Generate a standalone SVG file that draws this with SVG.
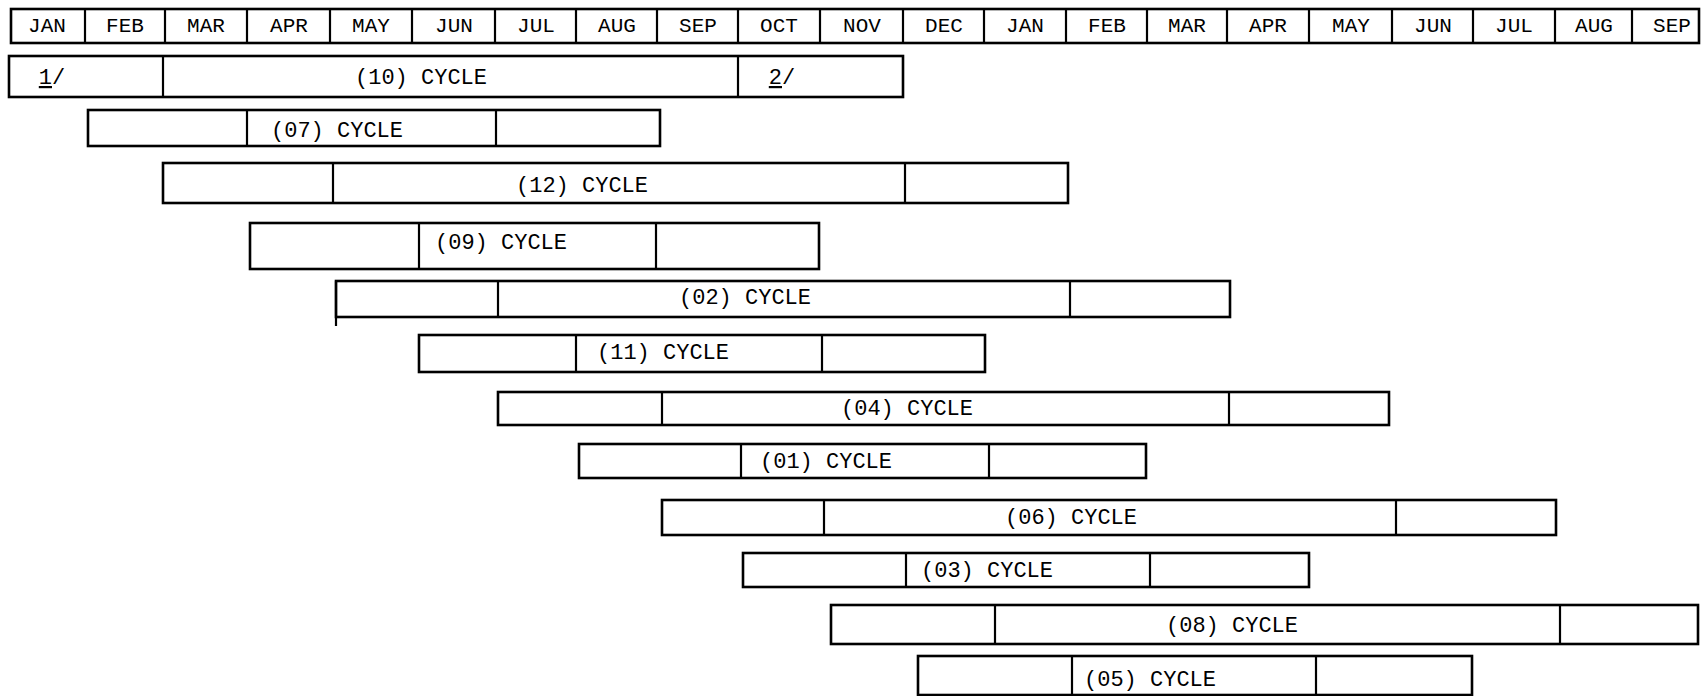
<svg xmlns="http://www.w3.org/2000/svg" width="1701" height="696" viewBox="0 0 1701 696">
<defs>
<style>
.box{fill:none;stroke:#000;stroke-width:2.6}
.div{stroke:#000;stroke-width:2.2}
.mo{font-family:"Liberation Mono","DejaVu Sans Mono",monospace;font-size:21px;fill:#000;text-anchor:middle}
.lb{font-family:"Liberation Mono","DejaVu Sans Mono",monospace;font-size:22px;fill:#000;text-anchor:middle}
</style>
</defs>
<rect width="1701" height="696" fill="#fff"/>
<g id="header">
<rect class="box" x="11" y="9" width="1688" height="34" stroke-width="3"/>
<g class="div">
<line x1="85" y1="9" x2="85" y2="43"/><line x1="165" y1="9" x2="165" y2="43"/><line x1="247" y1="9" x2="247" y2="43"/><line x1="330" y1="9" x2="330" y2="43"/><line x1="412" y1="9" x2="412" y2="43"/><line x1="495" y1="9" x2="495" y2="43"/><line x1="576" y1="9" x2="576" y2="43"/><line x1="657" y1="9" x2="657" y2="43"/><line x1="738" y1="9" x2="738" y2="43"/><line x1="820" y1="9" x2="820" y2="43"/><line x1="903" y1="9" x2="903" y2="43"/><line x1="984" y1="9" x2="984" y2="43"/><line x1="1066" y1="9" x2="1066" y2="43"/><line x1="1147" y1="9" x2="1147" y2="43"/><line x1="1227" y1="9" x2="1227" y2="43"/><line x1="1309" y1="9" x2="1309" y2="43"/><line x1="1392" y1="9" x2="1392" y2="43"/><line x1="1473" y1="9" x2="1473" y2="43"/><line x1="1555" y1="9" x2="1555" y2="43"/><line x1="1632" y1="9" x2="1632" y2="43"/>
</g>
<text class="mo" x="47" y="32">JAN</text><text class="mo" x="125" y="32">FEB</text><text class="mo" x="206" y="32">MAR</text><text class="mo" x="289" y="32">APR</text><text class="mo" x="371" y="32">MAY</text><text class="mo" x="454" y="32">JUN</text><text class="mo" x="536" y="32">JUL</text><text class="mo" x="617" y="32">AUG</text><text class="mo" x="698" y="32">SEP</text><text class="mo" x="779" y="32">OCT</text><text class="mo" x="862" y="32">NOV</text><text class="mo" x="944" y="32">DEC</text><text class="mo" x="1025" y="32">JAN</text><text class="mo" x="1107" y="32">FEB</text><text class="mo" x="1187" y="32">MAR</text><text class="mo" x="1268" y="32">APR</text><text class="mo" x="1351" y="32">MAY</text><text class="mo" x="1433" y="32">JUN</text><text class="mo" x="1514" y="32">JUL</text><text class="mo" x="1594" y="32">AUG</text><text class="mo" x="1672" y="32">SEP</text>
</g>
<g id="cycle10">
<rect class="box" x="9" y="56" width="894" height="41"/>
<line class="div" x1="163" y1="56" x2="163" y2="97"/><line class="div" x1="738" y1="56" x2="738" y2="97"/>
<text class="lb" x="421" y="84">(10) CYCLE</text>
<text class="lb" x="52" y="84"><tspan text-decoration="underline">1</tspan>/</text>
<text class="lb" x="782" y="84"><tspan text-decoration="underline">2</tspan>/</text>
</g>
<g id="cycle07">
<rect class="box" x="88" y="110" width="572" height="36"/>
<line class="div" x1="247" y1="110" x2="247" y2="146"/><line class="div" x1="496" y1="110" x2="496" y2="146"/>
<text class="lb" x="337" y="137">(07) CYCLE</text>
</g>
<g id="cycle12">
<rect class="box" x="163" y="163" width="905" height="40"/>
<line class="div" x1="333" y1="163" x2="333" y2="203"/><line class="div" x1="905" y1="163" x2="905" y2="203"/>
<text class="lb" x="582" y="192">(12) CYCLE</text>
</g>
<g id="cycle09">
<rect class="box" x="250" y="223" width="569" height="46"/>
<line class="div" x1="419" y1="223" x2="419" y2="269"/><line class="div" x1="656" y1="223" x2="656" y2="269"/>
<text class="lb" x="501" y="249">(09) CYCLE</text>
</g>
<g id="cycle02">
<rect class="box" x="336" y="281" width="894" height="36"/>
<line class="div" x1="336" y1="281" x2="336" y2="326"/>
<line class="div" x1="498" y1="281" x2="498" y2="317"/><line class="div" x1="1070" y1="281" x2="1070" y2="317"/>
<text class="lb" x="745" y="304">(02) CYCLE</text>
</g>
<g id="cycle11">
<rect class="box" x="419" y="335" width="566" height="37"/>
<line class="div" x1="576" y1="335" x2="576" y2="372"/><line class="div" x1="822" y1="335" x2="822" y2="372"/>
<text class="lb" x="663" y="359">(11) CYCLE</text>
</g>
<g id="cycle04">
<rect class="box" x="498" y="392" width="891" height="33"/>
<line class="div" x1="662" y1="392" x2="662" y2="425"/><line class="div" x1="1229" y1="392" x2="1229" y2="425"/>
<text class="lb" x="907" y="415">(04) CYCLE</text>
</g>
<g id="cycle01">
<rect class="box" x="579" y="444" width="567" height="34"/>
<line class="div" x1="741" y1="444" x2="741" y2="478"/><line class="div" x1="989" y1="444" x2="989" y2="478"/>
<text class="lb" x="826" y="468">(01) CYCLE</text>
</g>
<g id="cycle06">
<rect class="box" x="662" y="500" width="894" height="35"/>
<line class="div" x1="824" y1="500" x2="824" y2="535"/><line class="div" x1="1396" y1="500" x2="1396" y2="535"/>
<text class="lb" x="1071" y="524">(06) CYCLE</text>
</g>
<g id="cycle03">
<rect class="box" x="743" y="553" width="566" height="34"/>
<line class="div" x1="906" y1="553" x2="906" y2="587"/><line class="div" x1="1150" y1="553" x2="1150" y2="587"/>
<text class="lb" x="987" y="577">(03) CYCLE</text>
</g>
<g id="cycle08">
<rect class="box" x="831" y="605" width="867" height="39"/>
<line class="div" x1="995" y1="605" x2="995" y2="644"/><line class="div" x1="1560" y1="605" x2="1560" y2="644"/>
<text class="lb" x="1232" y="632">(08) CYCLE</text>
</g>
<g id="cycle05">
<rect class="box" x="918" y="656" width="554" height="39"/>
<line class="div" x1="1072" y1="656" x2="1072" y2="695"/><line class="div" x1="1316" y1="656" x2="1316" y2="695"/>
<text class="lb" x="1150" y="686">(05) CYCLE</text>
</g>
</svg>
